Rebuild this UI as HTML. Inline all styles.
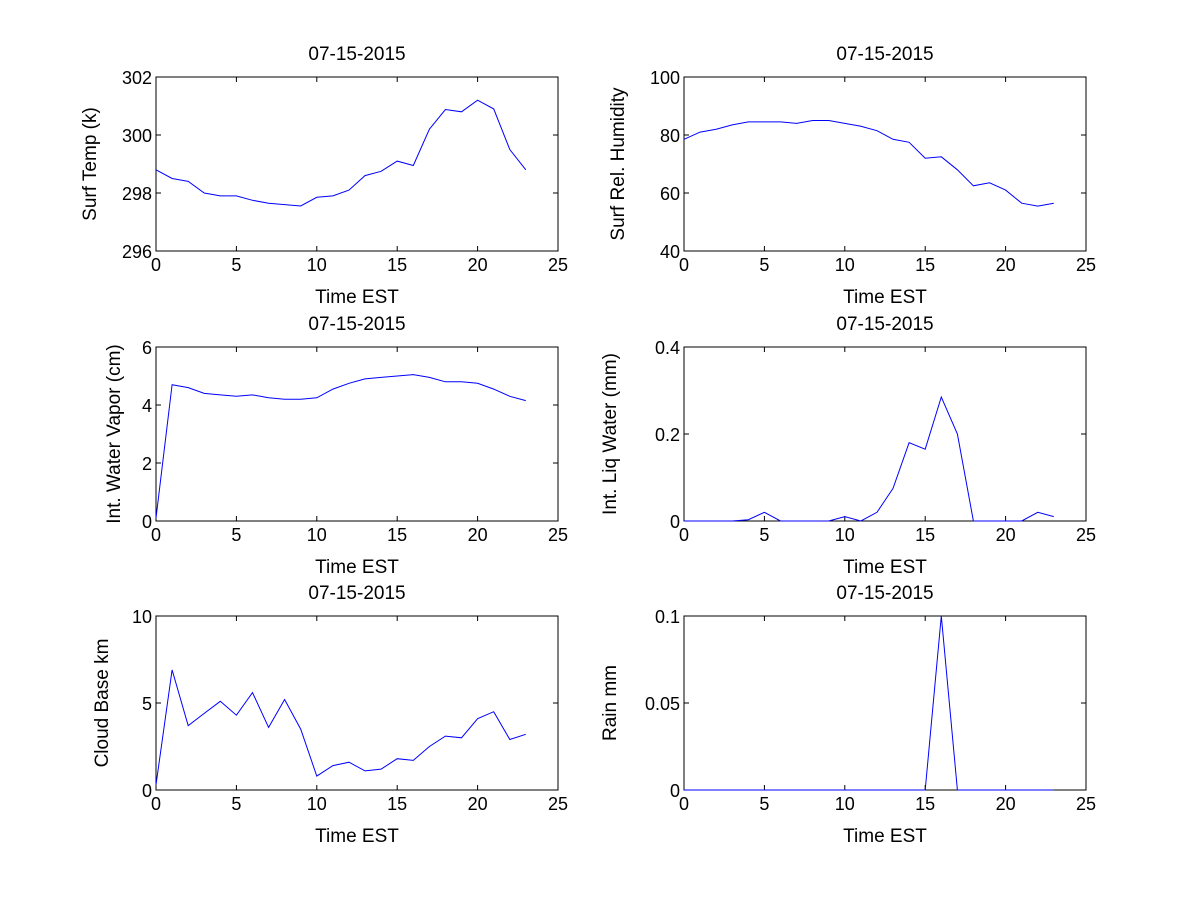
<!DOCTYPE html>
<html><head><meta charset="utf-8"><style>
html,body{margin:0;padding:0;background:#fff;}
svg text{font-family:"Liberation Sans",Arial,sans-serif;fill:#000;}
</style></head><body>
<svg id="fig" width="1200" height="900" xmlns="http://www.w3.org/2000/svg"></svg>
<script>
const hours=[0,1,2,3,4,5,6,7,8,9,10,11,12,13,14,15,16,17,18,19,20,21,22,23];
const surfTemp=[298.8,298.5,298.4,298.0,297.9,297.9,297.75,297.65,297.6,297.55,297.85,297.9,298.1,298.6,298.75,299.1,298.95,300.2,300.88,300.8,301.2,300.9,299.5,298.8];
const relHum=[78.5,81,82,83.5,84.5,84.5,84.5,84,85,85,84,83,81.5,78.5,77.5,72,72.5,68,62.5,63.5,61,56.5,55.5,56.5];
const waterVapor=[0.1,4.7,4.6,4.4,4.35,4.3,4.35,4.25,4.2,4.2,4.25,4.55,4.75,4.9,4.95,5.0,5.05,4.95,4.8,4.8,4.75,4.55,4.3,4.15];
const liqWater=[0,0,0,0,0.003,0.02,0,0,0,0,0.01,0,0.02,0.075,0.18,0.165,0.285,0.2,0,0,0,0,0.02,0.01];
const cloudBase=[0.3,6.9,3.7,4.4,5.1,4.3,5.6,3.6,5.2,3.5,0.8,1.4,1.6,1.1,1.2,1.8,1.7,2.5,3.1,3.0,4.1,4.5,2.9,3.2];
const rain=[0,0,0,0,0,0,0,0,0,0,0,0,0,0,0,0,0.1,0,0,0,0,0,0,0];
const xTicks=[0,5,10,15,20,25];
const tempTicks=[296,298,300,302];
const humTicks=[40,60,80,100];
const wvTicks=[0,2,4,6];
const liqTicks=[0,0.2,0.4];
const cloudTicks=[0,5,10];
const rainTicks=[0,0.05,0.1];
const dateTitle="07-15-2015";

const svg=document.getElementById('fig');
const NS="http://www.w3.org/2000/svg";
function el(tag,attrs,parent){const e=document.createElementNS(NS,tag);for(const k in attrs)e.setAttribute(k,attrs[k]);(parent||svg).appendChild(e);return e;}

const panels=[
 {name:'surf-temp',x0:156,y0:77,vals:surfTemp,ticks:tempTicks,ylab:'Surf Temp (k)',labx:96},
 {name:'rel-humidity',x0:684,y0:77,vals:relHum,ticks:humTicks,ylab:'Surf Rel. Humidity',labx:624},
 {name:'water-vapor',x0:156,y0:347,vals:waterVapor,ticks:wvTicks,ylab:'Int. Water Vapor (cm)',labx:120},
 {name:'liq-water',x0:684,y0:347,vals:liqWater,ticks:liqTicks,ylab:'Int. Liq Water (mm)',labx:616},
 {name:'cloud-base',x0:156,y0:616,vals:cloudBase,ticks:cloudTicks,ylab:'Cloud Base km',labx:108},
 {name:'rain',x0:684,y0:616,vals:rain,ticks:rainTicks,ylab:'Rain mm',labx:616}
];
const W=402,H=174;
panels.forEach(p=>{
  const g=el('g',{});
  
  
  const ymin=p.ticks[0],ymax=p.ticks[p.ticks.length-1];
  const sx=v=>p.x0+(v-0)/25*W;
  const sy=v=>p.y0+H-(v-ymin)/(ymax-ymin)*H;
  const frame=el('rect',{x:p.x0,y:p.y0,width:W,height:H,fill:'#fff',stroke:'#000','stroke-width':1},g);
  
  
  xTicks.forEach(t=>{
    const x=sx(t);
    el('line',{x1:x,x2:x,y1:p.y0+H,y2:p.y0+H-5,stroke:'#000'},g);
    el('line',{x1:x,x2:x,y1:p.y0,y2:p.y0+5,stroke:'#000'},g);
    const tl=el('text',{x:x,y:p.y0+H+20,'font-size':18,'text-anchor':'middle'},g);
    tl.textContent=t;
    
    
  });
  p.ticks.forEach(t=>{
    const y=sy(t);
    el('line',{x1:p.x0,x2:p.x0+5,y1:y,y2:y,stroke:'#000'},g);
    el('line',{x1:p.x0+W,x2:p.x0+W-5,y1:y,y2:y,stroke:'#000'},g);
    const tl=el('text',{x:p.x0-4,y:y+7,'font-size':18,'text-anchor':'end'},g);
    tl.textContent=t;
    
    
  });
  const pts=hours.map((h,i)=>sx(h).toFixed(1)+','+sy(p.vals[i]).toFixed(1)).join(' ');
  const line=el('polyline',{points:pts,fill:'none',stroke:'#0000ff','stroke-width':1},g);
  
  
  const t=el('text',{x:p.x0+W/2,y:p.y0-17,'font-size':19,'text-anchor':'middle'},g);
  t.textContent=dateTitle;
  
  
  const xl=el('text',{x:p.x0+W/2,y:p.y0+H+52,'font-size':19,'text-anchor':'middle'},g);
  xl.textContent='Time EST';
  
  
  const cy=p.y0+H/2;
  const yl=el('text',{x:p.labx,y:cy,'font-size':19,'text-anchor':'middle',transform:'rotate(-90 '+p.labx+' '+cy+')'},g);
  yl.textContent=p.ylab;
  
  
});
</script>
</body></html>
